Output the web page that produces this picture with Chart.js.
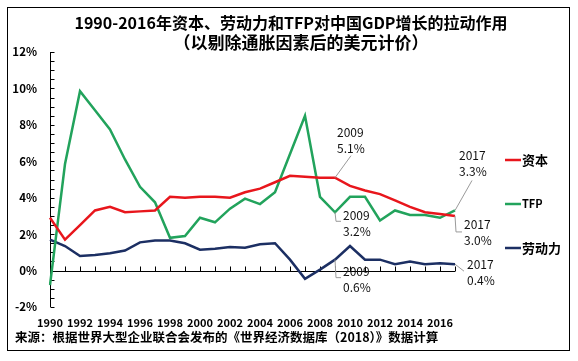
<!DOCTYPE html>
<html>
<head>
<meta charset="utf-8">
<script src="https://cdn.jsdelivr.net/npm/chart.js@4.4.1/dist/chart.umd.min.js"></script>
<style>
  html, body { margin: 0; padding: 0; background: #fff; }
  #wrap { width: 578px; height: 361px; position: relative; }
</style>
</head>
<body>
<div id="wrap"><canvas id="chart" width="578" height="361"></canvas></div>
<script>
// Data (percentage points of GDP growth)
const years = ["1990", "1991", "1992", "1993", "1994", "1995", "1996", "1997", "1998", "1999",
  "2000", "2001", "2002", "2003", "2004", "2005", "2006", "2007", "2008", "2009",
  "2010", "2011", "2012", "2013", "2014", "2015", "2016", "2017"];
const capital = [2.9, 1.7, 2.5, 3.3, 3.5, 3.2, 3.25, 3.3, 4.05, 4.0,
  4.05, 4.05, 4.0, 4.3, 4.5, 4.85, 5.2, 5.15, 5.1, 5.1,
  4.65, 4.4, 4.2, 3.85, 3.5, 3.2, 3.1, 3.0];
const tfp = [-0.8, 5.85, 9.85, 8.8, 7.75, 6.1, 4.6, 3.75, 1.8, 1.9,
  2.9, 2.65, 3.4, 3.95, 3.65, 4.3, 6.4, 8.5, 4.05, 3.2,
  4.05, 4.05, 2.75, 3.3, 3.05, 3.05, 2.9, 3.3];
const labor = [1.7, 1.35, 0.8, 0.85, 0.95, 1.1, 1.55, 1.65, 1.65, 1.5,
  1.15, 1.2, 1.3, 1.25, 1.45, 1.5, 0.6, -0.45, 0.05, 0.6,
  1.35, 0.6, 0.6, 0.35, 0.5, 0.35, 0.4, 0.35];
const seriesNames = ["资本", "TFP", "劳动力"];
const yTicks = [-2, 0, 2, 4, 6, 8, 10, 12];

// Callout labels: which series / year, and the text shown
const calloutSeries = [0, 1, 2, 1, 0, 2];
const calloutYears = ["2009", "2009", "2009", "2017", "2017", "2017"];
const calloutTexts = ["5.1%", "3.2%", "0.6%", "3.3%", "3.0%", "0.4%"];

const titleLines = ["1990-2016年资本、劳动力和TFP对中国GDP增长的拉动作用", "（以剔除通胀因素后的美元计价）"];
const sourceText = "来源：根据世界大型企业联合会发布的《世界经济数据库（2018）》数据计算";

const FONT = "'Noto Sans CJK SC', 'Noto Sans', sans-serif";
const colors = ["#e8161c", "#22a35c", "#1c2f63"];

// leader line shape + text offset for each callout (relative to the point)
const calloutLayout = [
  { path: [[0, 0], [16, -22]], dx: 2, dy: -45 },
  { path: [[0, 0], [1, 9], [6, 9]], dx: 8, dy: 3 },
  { path: [[0, 0], [1, 18], [6, 18]], dx: 8, dy: 12 },
  { path: [[0, 0], [17, -30]], dx: 4, dy: -55 },
  { path: [[0, 0], [1, 16], [7, 16]], dx: 9, dy: 9 },
  { path: [[0, 0], [9, 7]], dx: 12, dy: 0 }
];

// Title, frame, axes drawn inside the plot, legend, callouts, source
const decorPlugin = {
  id: "decor",
  beforeDraw(chart) {
    const ctx = chart.ctx;
    ctx.save();
    ctx.fillStyle = "#fff";
    ctx.fillRect(0, 0, chart.width, chart.height);
    ctx.strokeStyle = "#000";
    ctx.lineWidth = 1;
    ctx.strokeRect(7.5, 7.5, 562, 343);

    ctx.fillStyle = "#000";
    ctx.textAlign = "center";
    ctx.textBaseline = "middle";
    ctx.font = "bold 16px " + FONT;
    ctx.fillText(titleLines[0], 291, 23);
    ctx.font = "bold 17px " + FONT;
    ctx.fillText(titleLines[1], 301, 43);

    ctx.textAlign = "left";
    ctx.font = "bold 12.5px " + FONT;
    ctx.fillText(sourceText, 15, 337);
    ctx.restore();
  },
  beforeDatasetsDraw(chart) {
    const ctx = chart.ctx;
    const x = chart.scales.x, y = chart.scales.y;
    const area = chart.chartArea;
    ctx.save();
    ctx.strokeStyle = "#000";
    ctx.lineWidth = 1;
    // y axis line + ticks every 0.5
    const ax = Math.round(area.left) + 0.5;
    ctx.beginPath();
    ctx.moveTo(ax, area.top);
    ctx.lineTo(ax, area.bottom);
    for (let v = y.min; v <= y.max + 0.001; v += 0.5) {
      const py = Math.round(y.getPixelForValue(v)) + 0.5;
      ctx.moveTo(ax, py);
      ctx.lineTo(ax + 4, py);
    }
    // zero line + year ticks
    const zy = Math.round(y.getPixelForValue(0)) + 0.5;
    ctx.moveTo(area.left, zy);
    ctx.lineTo(area.right, zy);
    years.forEach((yr, i) => {
      const px = Math.round(x.getPixelForValue(i)) + 0.5;
      ctx.moveTo(px, zy);
      ctx.lineTo(px, zy - 5);
    });
    ctx.stroke();
    ctx.restore();
  },
  afterDatasetsDraw(chart) {
    const ctx = chart.ctx;
    const x = chart.scales.x, y = chart.scales.y;
    ctx.save();
    // callouts
    calloutSeries.forEach((s, k) => {
      const idx = years.indexOf(calloutYears[k]);
      const val = chart.data.datasets[s].data[idx];
      const px = x.getPixelForValue(idx);
      const py = y.getPixelForValue(val);
      const lay = calloutLayout[k];
      ctx.strokeStyle = "#9a9a9a";
      ctx.lineWidth = 1;
      ctx.beginPath();
      lay.path.forEach((p, j) => {
        if (j === 0) ctx.moveTo(px + p[0], py + p[1]);
        else ctx.lineTo(px + p[0], py + p[1]);
      });
      ctx.stroke();
      ctx.fillStyle = "#111";
      ctx.font = "12px " + FONT;
      ctx.textAlign = "left";
      ctx.textBaseline = "middle";
      ctx.fillText(calloutYears[k], px + lay.dx, py + lay.dy);
      ctx.fillText(calloutTexts[k], px + lay.dx, py + lay.dy + 16);
    });
    // legend
    const legendY = [160, 204, 248];
    chart.data.datasets.forEach((ds, i) => {
      ctx.strokeStyle = ds.borderColor;
      ctx.lineWidth = 2.5;
      ctx.beginPath();
      ctx.moveTo(505, legendY[i]);
      ctx.lineTo(521, legendY[i]);
      ctx.stroke();
      ctx.fillStyle = "#000";
      ctx.font = (ds.label === "TFP" ? "bold 11px " : "bold 13px ") + FONT;
      ctx.textAlign = "left";
      ctx.textBaseline = "middle";
      ctx.fillText(ds.label, 522, legendY[i]);
    });
    ctx.restore();
  }
};

const ctx = document.getElementById("chart").getContext("2d");
new Chart(ctx, {
  type: "line",
  data: {
    labels: years,
    datasets: [
      { label: seriesNames[0], data: capital, borderColor: colors[0] },
      { label: seriesNames[1], data: tfp, borderColor: colors[1] },
      { label: seriesNames[2], data: labor, borderColor: colors[2] }
    ]
  },
  options: {
    responsive: false,
    animation: false,
    devicePixelRatio: 1,
    layout: { padding: { left: 0, top: 52, right: 123, bottom: 0 } },
    elements: {
      line: { borderWidth: 2.5, tension: 0, fill: false },
      point: { radius: 0 }
    },
    plugins: {
      legend: { display: false },
      title: { display: false },
      tooltip: { enabled: false }
    },
    scales: {
      x: {
        offset: false,
        grid: { display: false, drawTicks: false },
        border: { display: false },
        afterFit(scale) { scale.height = 54; },
        ticks: {
          autoSkip: false,
          maxRotation: 0,
          padding: 9,
          color: "#000",
          font: { family: FONT, size: 11, weight: "bold" },
          callback(val, i) {
            return (i % 2 === 0 && i < years.length - 1) ? years[i] : "";
          }
        }
      },
      y: {
        min: yTicks[0],
        max: yTicks[yTicks.length - 1],
        afterFit(scale) { scale.width = 50; },
        afterBuildTicks(scale) { scale.ticks = yTicks.map(v => ({ value: v })); },
        grid: { display: false, drawTicks: false },
        border: { display: false },
        ticks: {
          autoSkip: false,
          padding: 13,
          color: "#000",
          font: { family: FONT, size: 11.5, weight: "bold" },
          callback: v => v + "%"
        }
      }
    }
  },
  plugins: [decorPlugin]
});
</script>
</body>
</html>
